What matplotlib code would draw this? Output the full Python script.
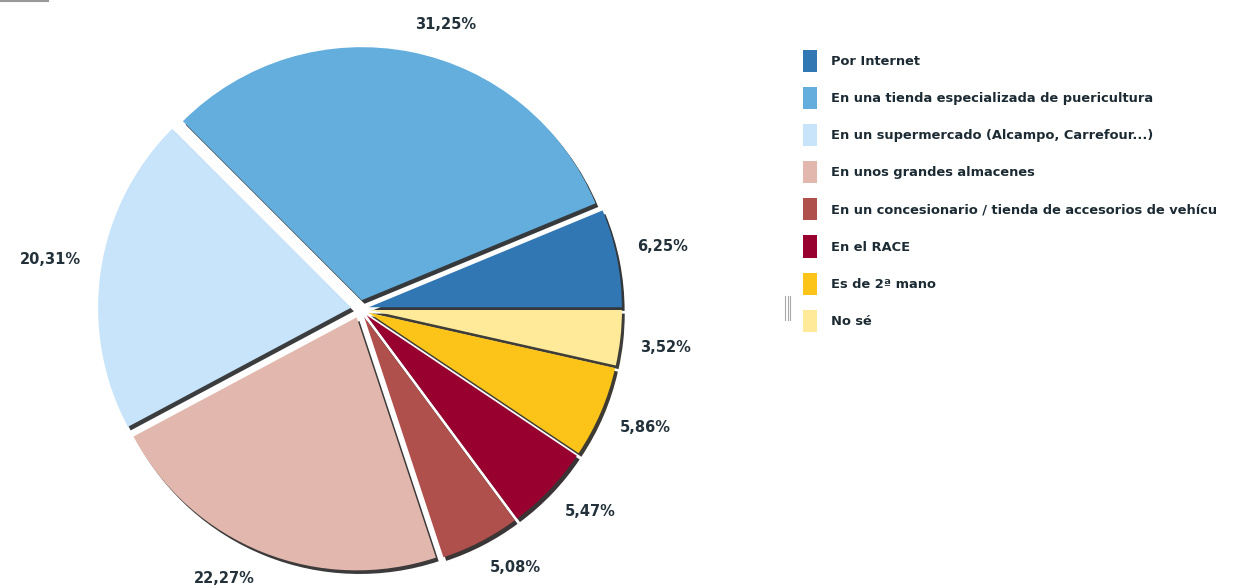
import matplotlib
matplotlib.use("Agg")
import matplotlib.pyplot as plt
import matplotlib.patches as mpatches

# donde compraron la silla
categorias = [
    "Por Internet",
    "En una tienda especializada de puericultura",
    "En un supermercado (Alcampo, Carrefour...)",
    "En unos grandes almacenes",
    "En un concesionario / tienda de accesorios de vehícu",
    "En el RACE",
    "Es de 2ª mano",
    "No sé",
]
porcentajes = [6.25, 31.25, 20.31, 22.27, 5.08, 5.47, 5.86, 3.52]
colores = ["#3177b4", "#63aedc", "#c8e4fa", "#e2b8ae",
           "#b0504c", "#980030", "#fcc418", "#feea98"]

W, H = 1234, 588
fig = plt.figure(figsize=(W / 100, H / 100), dpi=100)
ax = fig.add_axes([0, 0, 1, 1])

etiquetas = [("%.2f" % p).replace(".", ",") + "%" for p in porcentajes]
cx, cy = 360, 279

# ejes en pixeles: explode va en las mismas unidades que el radio
wedges, textos = ax.pie(
    porcentajes,
    colors=colores,
    labels=etiquetas,
    labeldistance=1.08,
    startangle=0,
    counterclock=True,
    center=(cx, cy),
    radius=253,
    explode=[9] * len(porcentajes),
    shadow={"ox": 2.0, "oy": -2.6, "shade": 0.95, "alpha": 0.8},
    wedgeprops={"linewidth": 0},
    frame=True,
)
ax.set_xlim(0, W)
ax.set_ylim(0, H)
ax.set_aspect("equal")
ax.axis("off")

for t in textos:
    x, y = t.get_position()
    t.set_fontsize(10.5)
    t.set_fontweight("bold")
    t.set_color("#22313a")
    # pie() decide la alineacion con x > 0; aqui el centro no es el origen
    t.set_horizontalalignment("left" if x > cx else "right")
    t.set_verticalalignment("bottom" if y > cy else "top")

handles = [mpatches.Patch(facecolor=c, edgecolor="none") for c in colores]
leg = fig.legend(
    handles, categorias,
    loc="upper left",
    bbox_to_anchor=(798 / W, 1 - 45 / H),
    frameon=False,
    fontsize=9.4,
    handlelength=1.08,
    handleheight=2.22,
    handletextpad=1.08,
    labelspacing=1.15,
    borderaxespad=0,
)
for t in leg.get_texts():
    t.set_fontweight("bold")
    t.set_color("#1c2b33")

# pequeños detalles grises
ax.plot([0, 48], [H - 1, H - 1], color="#999999", lw=1.5)
for x in (785, 787.5, 790):
    ax.plot([x, x], [H - 296, H - 320], color="#aaaaaa", lw=0.8)

fig.savefig("out.png", dpi=100, facecolor="white")
